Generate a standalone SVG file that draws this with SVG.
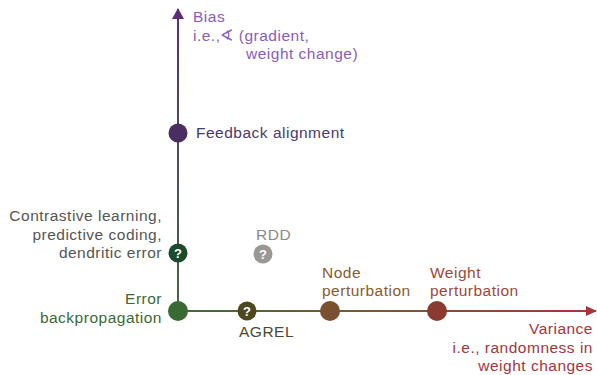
<svg xmlns="http://www.w3.org/2000/svg" width="597" height="375" viewBox="0 0 597 375">
<defs>
<linearGradient id="gv" x1="0" y1="311" x2="0" y2="10" gradientUnits="userSpaceOnUse">
<stop offset="0" stop-color="#3f6b3a"/><stop offset="1" stop-color="#5a2e7a"/>
</linearGradient>
<linearGradient id="gh" x1="178" y1="0" x2="597" y2="0" gradientUnits="userSpaceOnUse">
<stop offset="0" stop-color="#3f6b3a"/><stop offset="0.45" stop-color="#7a5a30"/><stop offset="1" stop-color="#a8343c"/>
</linearGradient>
<marker id="av" markerWidth="12" markerHeight="12" refX="10" refY="6" orient="auto" markerUnits="userSpaceOnUse">
<path d="M0,0 L11,6 L0,12 Z" fill="#5a2e7a"/>
</marker>
<marker id="ahr" markerWidth="12" markerHeight="12" refX="10" refY="6" orient="auto" markerUnits="userSpaceOnUse">
<path d="M0,1 L11,6 L0,11 Z" fill="#a8343c"/>
</marker>
</defs>
<style>
text{font-family:"Liberation Sans",Arial,sans-serif;font-size:15.5px;letter-spacing:0.5px}
.q{font-size:13px;font-weight:bold;fill:#fff;text-anchor:middle;letter-spacing:0}
</style>
<g id="connectors">
<line x1="178" y1="311" x2="178" y2="9" stroke="url(#gv)" stroke-width="2" marker-end="url(#av)"/>
<line x1="178" y1="311" x2="596" y2="311.01" stroke="url(#gh)" stroke-width="2" marker-end="url(#ahr)"/>
</g>
<g id="axis-bias" fill="#8a5cc0">
<text x="193" y="22">Bias</text>
<text x="193" y="41">i.e.,∢ (gradient,</text>
<text x="246" y="59">weight change)</text>
</g>
<g id="axis-variance" fill="#a8343c">
<text x="593" y="334" text-anchor="end">Variance</text>
<text x="593" y="353" text-anchor="end">i.e., randomness in</text>
<text x="593" y="371" text-anchor="end">weight changes</text>
</g>
<g id="feedback-alignment">
<circle cx="178" cy="133" r="9.5" fill="#4a2d62"/>
<text x="196" y="138" fill="#4a3a6a">Feedback alignment</text>
</g>
<g id="contrastive">
<circle cx="178" cy="253" r="9.5" fill="#1c4a2c"/>
<text class="q" x="178" y="257.5">?</text>
<text x="162" y="221" fill="#555" text-anchor="end">Contrastive learning,</text>
<text x="162" y="240" fill="#555" text-anchor="end">predictive coding,</text>
<text x="162" y="258" fill="#555" text-anchor="end">dendritic error</text>
</g>
<g id="backprop">
<circle cx="178" cy="311" r="10" fill="#3a6a34"/>
<text x="162" y="304" fill="#3a6a34" text-anchor="end">Error</text>
<text x="162" y="323" fill="#3a6a34" text-anchor="end">backpropagation</text>
</g>
<g id="rdd">
<circle cx="263" cy="254" r="9.5" fill="#9a9894"/>
<text class="q" x="263" y="258.5">?</text>
<text x="256" y="240" fill="#8a8a8a">RDD</text>
</g>
<g id="agrel">
<circle cx="247" cy="311" r="9.5" fill="#4d4820"/>
<text class="q" x="247" y="315.5">?</text>
<text x="239" y="337" fill="#4d4a30">AGREL</text>
</g>
<g id="node-perturbation">
<circle cx="330" cy="311" r="10" fill="#7a5030"/>
<text x="322" y="278" fill="#8a5a2e">Node</text>
<text x="322" y="296" fill="#8a5a2e">perturbation</text>
</g>
<g id="weight-perturbation">
<circle cx="437" cy="311" r="10" fill="#8a3a2e"/>
<text x="430" y="278" fill="#a0473a">Weight</text>
<text x="430" y="296" fill="#a0473a">perturbation</text>
</g>
</svg>
